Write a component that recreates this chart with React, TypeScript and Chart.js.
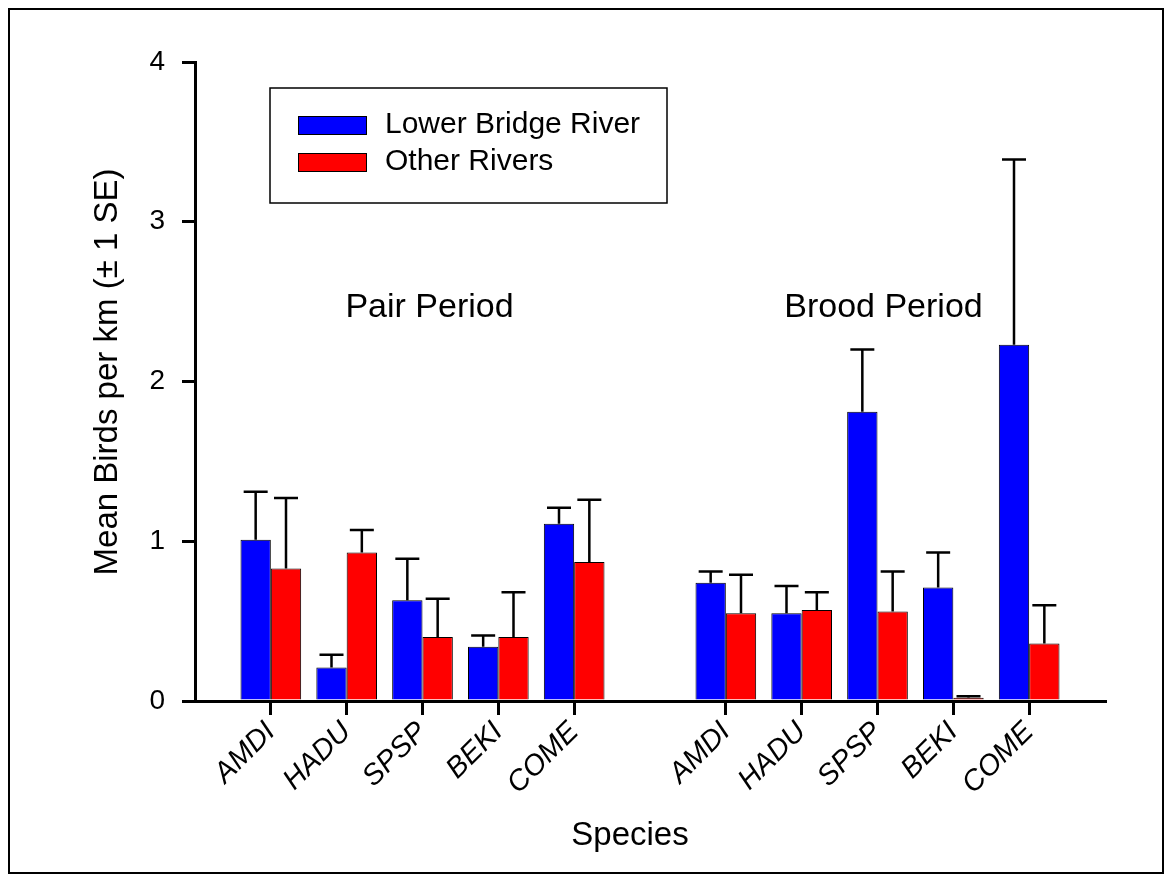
import React, { useEffect, useRef } from 'react';
import { Chart, registerables } from 'chart.js';

Chart.register(...registerables);

// ---- data ----
const species = ['AMDI', 'HADU', 'SPSP', 'BEKI', 'COME'];
const periods = ['Pair Period', 'Brood Period'];
const seriesNames = ['Lower Bridge River', 'Other Rivers'];

const lbrPair = [1.01, 0.21, 0.63, 0.34, 1.11];
const lbrPairSE = [0.3, 0.08, 0.26, 0.07, 0.1];
const otherPair = [0.83, 0.93, 0.4, 0.4, 0.87];
const otherPairSE = [0.44, 0.14, 0.24, 0.28, 0.39];

const lbrBrood = [0.74, 0.55, 1.81, 0.71, 2.23];
const lbrBroodSE = [0.07, 0.17, 0.39, 0.22, 1.16];
const otherBrood = [0.55, 0.57, 0.56, 0.02, 0.36];
const otherBroodSE = [0.24, 0.11, 0.25, 0.01, 0.24];

const yMin = 0;
const yMax = 4;
const yStep = 1;

const yTitle = 'Mean Birds per km (\u00B1 1 SE)';
const xTitle = 'Species';

// ---- derived ----
const labels = ['', ...species, '', ...species, ''];
const join = (a: number[], b: number[]) => [null, ...a, null, ...b, null];

const FONT = '"Liberation Sans", Arial, Helvetica, sans-serif';
const BLUE = '#0000ff';
const RED = '#ff0000';

const errorBars = {
  id: 'errorBars',
  afterDatasetsDraw(chart: any) {
    const ctx = chart.ctx;
    const y = chart.scales.y;
    chart.data.datasets.forEach((ds: any, di: number) => {
      const meta = chart.getDatasetMeta(di);
      meta.data.forEach((bar: any, i: number) => {
        const v = ds.data[i];
        if (v == null) return;
        const top = y.getPixelForValue(v + ds.se[i]);
        ctx.save();
        ctx.strokeStyle = '#000';
        ctx.lineWidth = 2.5;
        ctx.beginPath();
        ctx.moveTo(bar.x, bar.y);
        ctx.lineTo(bar.x, top);
        ctx.moveTo(bar.x - 12, top);
        ctx.lineTo(bar.x + 12, top);
        ctx.stroke();
        ctx.restore();
      });
    });
  },
};

const annotations = {
  id: 'annotations',
  afterDraw(chart: any) {
    const ctx = chart.ctx;
    const x = chart.scales.x;
    const y = chart.scales.y;
    ctx.save();
    ctx.fillStyle = '#000';

    // y title
    ctx.save();
    ctx.translate(98, 362);
    ctx.rotate(-Math.PI / 2);
    ctx.font = `33px ${FONT}`;
    ctx.textAlign = 'center';
    ctx.textBaseline = 'middle';
    ctx.fillText(yTitle, 0, 0);
    ctx.restore();

    // x title
    ctx.font = `33px ${FONT}`;
    ctx.textAlign = 'center';
    ctx.textBaseline = 'middle';
    ctx.fillText(xTitle, 620, 826);

    // period labels
    ctx.font = `34px ${FONT}`;
    const py = y.getPixelForValue(2.46);
    ctx.fillText(periods[0], x.getPixelForValue(3) + 7, py);
    ctx.fillText(periods[1], x.getPixelForValue(9) + 6, py);

    // legend
    ctx.lineWidth = 1.5;
    ctx.strokeStyle = '#000';
    ctx.strokeRect(260, 78, 397, 115);
    const rows = [
      { name: seriesNames[0], color: BLUE, top: 106 },
      { name: seriesNames[1], color: RED, top: 143 },
    ];
    ctx.font = `30px ${FONT}`;
    ctx.textAlign = 'left';
    ctx.textBaseline = 'middle';
    rows.forEach((r) => {
      ctx.fillStyle = r.color;
      ctx.fillRect(288, r.top, 69, 18);
      ctx.lineWidth = 1;
      ctx.strokeRect(288.5, r.top + 0.5, 68, 18);
      ctx.fillStyle = '#000';
      ctx.fillText(r.name, 375, r.top + 9);
    });
    ctx.restore();
  },
};

export default function App() {
  const ref = useRef<HTMLCanvasElement | null>(null);

  useEffect(() => {
    if (!ref.current) return;
    const chart = new Chart(ref.current, {
      type: 'bar',
      data: {
        labels,
        datasets: [
          {
            label: seriesNames[0],
            data: join(lbrPair, lbrBrood),
            se: join(lbrPairSE, lbrBroodSE),
            backgroundColor: BLUE,
            borderColor: '#000',
            borderWidth: 1,
            categoryPercentage: 0.8,
            barPercentage: 1.0,
          } as any,
          {
            label: seriesNames[1],
            data: join(otherPair, otherBrood),
            se: join(otherPairSE, otherBroodSE),
            backgroundColor: RED,
            borderColor: '#000',
            borderWidth: 1,
            categoryPercentage: 0.8,
            barPercentage: 1.0,
          } as any,
        ],
      },
      options: {
        responsive: false,
        animation: false,
        layout: { padding: { left: 0, top: 52, right: 57, bottom: 0 } },
        plugins: {
          legend: { display: false },
          tooltip: { enabled: false },
        },
        scales: {
          x: {
            type: 'category',
            offset: false,
            z: 1,
            grid: {
              display: true,
              offset: false,
              drawOnChartArea: false,
              drawTicks: true,
              tickLength: 14,
              lineWidth: 3,
              color: (c: any) => (labels[c.index] ? '#000' : 'rgba(0,0,0,0)'),
            },
            border: { display: true, color: '#000', width: 3 },
            ticks: {
              autoSkip: false,
              maxRotation: 45,
              minRotation: 45,
              padding: 0,
              color: '#000',
              font: { family: FONT, size: 29, style: 'italic' },
            },
            afterFit: (s: any) => {
              s.height = 171;
            },
          },
          y: {
            min: yMin,
            max: yMax,
            ticks: {
              stepSize: yStep,
              padding: 17,
              color: '#000',
              font: { family: FONT, size: 28 },
            },
            grid: {
              display: true,
              drawOnChartArea: false,
              tickLength: 13,
              lineWidth: 3,
              color: '#000',
            },
            border: { display: true, color: '#000', width: 3 },
            afterFit: (s: any) => {
              s.width = 185;
            },
          },
        },
      },
      plugins: [errorBars, annotations],
    } as any);
    return () => chart.destroy();
  }, []);

  return (
    <div
      style={{
        width: 1152,
        height: 862,
        border: '2px solid #000',
        background: '#fff',
      }}
    >
      <canvas ref={ref} width={1152} height={862} style={{ display: 'block' }} />
    </div>
  );
}
